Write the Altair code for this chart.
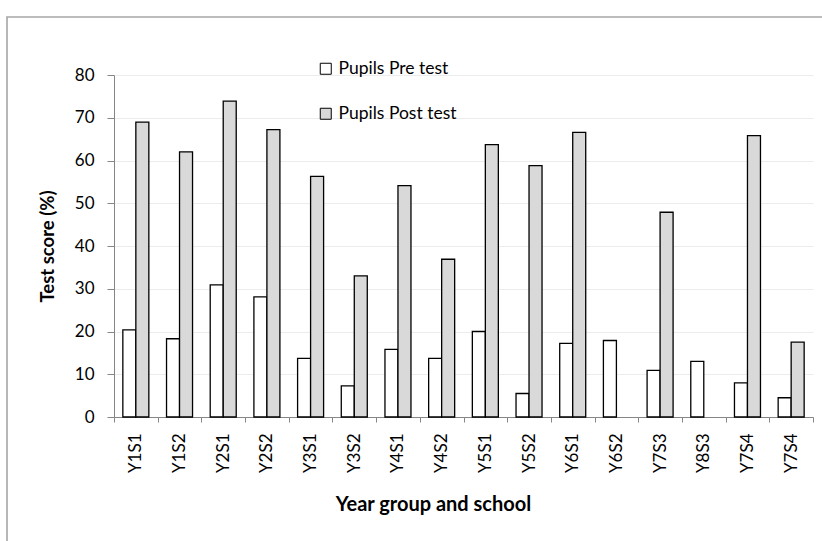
import altair as alt
import pandas as pd

# Year group / school codes (Y7S4 occurs twice, so bars are keyed by position)
groups = ["Y1S1", "Y1S2", "Y2S1", "Y2S2", "Y3S1", "Y3S2", "Y4S1", "Y4S2",
          "Y5S1", "Y5S2", "Y6S1", "Y6S2", "Y7S3", "Y8S3", "Y7S4", "Y7S4"]
pre_test = [20.4, 18.3, 30.9, 28.1, 13.7, 7.3, 15.8, 13.7,
            20.0, 5.5, 17.2, 17.9, 10.9, 13.0, 8.0, 4.5]
post_test = [69.0, 62.0, 73.9, 67.2, 56.3, 33.0, 54.1, 36.9,
             63.7, 58.8, 66.6, None, 47.9, None, 65.8, 17.5]
series = ["Pupils Pre test", "Pupils Post test"]
fills = ["#ffffff", "#d9d9d9"]

rows = []
for i, g in enumerate(groups):
    for name, vals in zip(series, [pre_test, post_test]):
        if vals[i] is not None:
            rows.append({"slot": i, "group": g, "series": name, "score": vals[i]})
df = pd.DataFrame(rows)

label_expr = "[" + ",".join(f"'{g}'" for g in groups) + "][datum.value]"

font = "Lato"

bars = alt.Chart(df).mark_bar(stroke="#000000", strokeWidth=1.3).encode(
    x=alt.X("slot:O",
            scale=alt.Scale(paddingInner=0, paddingOuter=0),
            axis=alt.Axis(title="Year group and school", labelExpr=label_expr,
                          labelAngle=-90, tickBand="extent", tickSize=5,
                          labelPadding=11, titleX=319, titleY=93,
                          titleBaseline="alphabetic", titleFontSize=20)),
    xOffset=alt.XOffset("series:N", sort=series,
                        scale=alt.Scale(paddingInner=0, paddingOuter=0.68)),
    y=alt.Y("score:Q",
            scale=alt.Scale(domain=[0, 80], nice=False),
            axis=alt.Axis(title="Test score (%)", values=list(range(0, 81, 10)),
                          tickSize=7, labelPadding=13, titleX=-61, titleY=171,
                          titleBaseline="alphabetic", titleFontSize=18.5)),
    fill=alt.Fill("series:N", sort=series,
                  scale=alt.Scale(domain=series, range=fills),
                  legend=alt.Legend(title=None, orient="none", legendX=203,
                                    legendY=-15, direction="vertical",
                                    symbolType="square", symbolSize=121,
                                    symbolStrokeColor="#000000",
                                    symbolStrokeWidth=1, rowPadding=26,
                                    labelFontSize=17.5, labelFont=font,
                                    labelColor="#000000", labelOffset=4)),
)

# outer chart border
frame = alt.Chart(pd.DataFrame({"k": [0]})).mark_rect(
    fill=None, stroke="#a6a6a6", strokeWidth=1.6
).encode(x=alt.value(-107), x2=alt.value(720), y=alt.value(-58), y2=alt.value(480))

chart = alt.layer(frame, bars).properties(
    width=699, height=342,
    autosize=alt.AutoSizeParams(type="none"),
    padding={"left": 114, "top": 75, "right": 9, "bottom": 124},
    background="#ffffff",
).configure_view(stroke=None).configure_axis(
    labelFont=font, labelFontSize=17, labelColor="#000000",
    titleFont=font, titleFontWeight="bold", titleColor="#000000",
    domainColor="#868686", tickColor="#868686", gridColor="#ececec",
).configure_axisX(grid=False).configure_axisY(grid=True)

chart.save("out.html", embed_options={"renderer": "svg", "actions": False})
